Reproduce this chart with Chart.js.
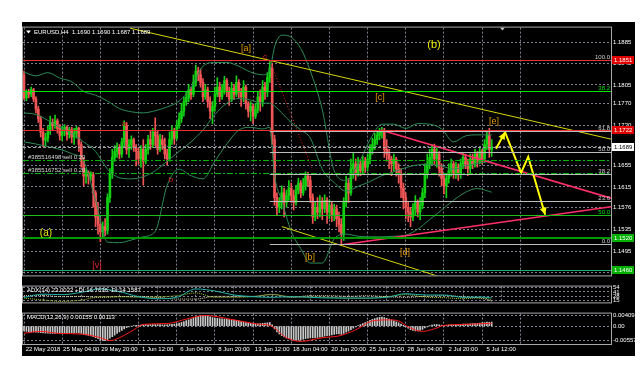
<!DOCTYPE html>
<html><head><meta charset="utf-8">
<script src="https://cdn.jsdelivr.net/npm/chart.js@4.4.1/dist/chart.umd.min.js"></script>
<style>
html,body{margin:0;padding:0;background:#fff;width:644px;height:372px;overflow:hidden}
#frame{position:absolute;left:22px;top:22px;width:613px;height:334px;background:#000}
canvas{position:absolute}
</style></head><body>
<div id="frame"></div>
<canvas id="cMain" style="left:22px;top:22px" width="613" height="259"></canvas>
<canvas id="cAdx" style="left:22px;top:281px" width="613" height="27"></canvas>
<canvas id="cMacd" style="left:22px;top:308px" width="613" height="48"></canvas>
<script>
// ---------------- DATA ----------------
const opens = [
1.1824,1.1781,1.1792,1.1788,1.1796,1.1779,1.1760,1.1742,1.1717,1.1702,
1.1706,1.1720,1.1735,1.1729,1.1738,1.1724,1.1711,1.1720,1.1726,1.1713,
1.1722,1.1708,1.1715,1.1724,1.1694,1.1663,1.1635,1.1642,1.1635,1.1638,
1.1604,1.1559,1.1545,1.1531,1.1541,1.1534,1.1595,1.1640,1.1670,1.1681,
1.1688,1.1676,1.1699,1.1729,1.1685,1.1694,1.1703,1.1688,1.1681,1.1667,
1.1685,1.1663,1.1685,1.1703,1.1694,1.1717,1.1710,1.1685,1.1703,1.1694,
1.1676,1.1667,1.1703,1.1720,1.1706,1.1729,1.1742,1.1756,1.1774,1.1781,
1.1796,1.1788,1.1810,1.1831,1.1824,1.1810,1.1783,1.1796,1.1774,1.1756,
1.1765,1.1788,1.1801,1.1783,1.1796,1.1813,1.1792,1.1779,1.1799,1.1788,
1.1810,1.1792,1.1783,1.1801,1.1771,1.1756,1.1765,1.1747,1.1760,1.1783,
1.1774,1.1801,1.1792,1.1819,1.1837,1.1703,1.1595,1.1577,1.1586,1.1604,
1.1586,1.1599,1.1613,1.1599,1.1586,1.1609,1.1622,1.1604,1.1617,1.1635,
1.1627,1.1595,1.1559,1.1577,1.1568,1.1586,1.1574,1.1590,1.1568,1.1581,
1.1563,1.1574,1.1556,1.1545,1.1527,1.1586,1.1622,1.1604,1.1649,1.1658,
1.1640,1.1658,1.1645,1.1663,1.1652,1.1667,1.1685,1.1694,1.1703,1.1711,
1.1717,1.1720,1.1685,1.1676,1.1667,1.1658,1.1667,1.1649,1.1640,1.1613,
1.1595,1.1577,1.1568,1.1559,1.1574,1.1586,1.1568,1.1581,1.1604,1.1640,
1.1658,1.1670,1.1685,1.1667,1.1676,1.1649,1.1631,1.1617,1.1631,1.1645,
1.1658,1.1640,1.1652,1.1638,1.1658,1.1670,1.1658,1.1649,1.1667,1.1658,
1.1676,1.1663,1.1681,1.1667,1.1694,1.1711,1.1685];
const closes = [
1.1781,1.1792,1.1788,1.1796,1.1779,1.1760,1.1742,1.1717,1.1702,1.1706,
1.1720,1.1735,1.1729,1.1738,1.1724,1.1711,1.1720,1.1726,1.1713,1.1722,
1.1708,1.1715,1.1724,1.1694,1.1663,1.1635,1.1642,1.1635,1.1638,1.1604,
1.1559,1.1545,1.1531,1.1541,1.1534,1.1595,1.1640,1.1670,1.1681,1.1688,
1.1676,1.1699,1.1729,1.1685,1.1694,1.1703,1.1688,1.1681,1.1667,1.1685,
1.1663,1.1685,1.1703,1.1694,1.1717,1.1710,1.1685,1.1703,1.1694,1.1676,
1.1667,1.1703,1.1720,1.1706,1.1729,1.1742,1.1756,1.1774,1.1781,1.1796,
1.1788,1.1810,1.1831,1.1824,1.1810,1.1783,1.1796,1.1774,1.1756,1.1765,
1.1788,1.1801,1.1783,1.1796,1.1813,1.1792,1.1779,1.1799,1.1788,1.1810,
1.1792,1.1783,1.1801,1.1771,1.1756,1.1765,1.1747,1.1760,1.1783,1.1774,
1.1801,1.1792,1.1819,1.1837,1.1703,1.1595,1.1577,1.1586,1.1604,1.1586,
1.1599,1.1613,1.1599,1.1586,1.1609,1.1622,1.1604,1.1617,1.1635,1.1627,
1.1595,1.1559,1.1577,1.1568,1.1586,1.1574,1.1590,1.1568,1.1581,1.1563,
1.1574,1.1556,1.1545,1.1527,1.1586,1.1622,1.1604,1.1649,1.1658,1.1640,
1.1658,1.1645,1.1663,1.1652,1.1667,1.1685,1.1694,1.1703,1.1711,1.1717,
1.1720,1.1685,1.1676,1.1667,1.1658,1.1667,1.1649,1.1640,1.1613,1.1595,
1.1577,1.1568,1.1559,1.1574,1.1586,1.1568,1.1581,1.1604,1.1640,1.1658,
1.1670,1.1685,1.1667,1.1676,1.1649,1.1631,1.1617,1.1631,1.1645,1.1658,
1.1640,1.1652,1.1638,1.1658,1.1670,1.1658,1.1649,1.1667,1.1658,1.1676,
1.1663,1.1681,1.1667,1.1694,1.1711,1.1685,1.1689];
const highs = [
1.1831,1.1796,1.1797,1.1801,1.1799,1.1783,1.1765,1.1747,1.1724,1.1715,
1.1728,1.1747,1.1742,1.1749,1.1742,1.1731,1.1728,1.1731,1.1729,1.1726,
1.1726,1.1724,1.1728,1.1726,1.1699,1.1670,1.1649,1.1645,1.1643,1.1642,
1.1608,1.1586,1.1556,1.1550,1.1556,1.1602,1.1649,1.1685,1.1692,1.1697,
1.1694,1.1706,1.1738,1.1735,1.1703,1.1710,1.1706,1.1694,1.1688,1.1692,
1.1703,1.1694,1.1711,1.1720,1.1724,1.1744,1.1720,1.1713,1.1711,1.1706,
1.1685,1.1717,1.1729,1.1724,1.1738,1.1753,1.1771,1.1783,1.1792,1.1806,
1.1801,1.1824,1.1842,1.1838,1.1835,1.1817,1.1806,1.1801,1.1783,1.1774,
1.1801,1.1819,1.1810,1.1806,1.1821,1.1817,1.1801,1.1810,1.1806,1.1822,
1.1815,1.1799,1.1813,1.1805,1.1774,1.1774,1.1769,1.1771,1.1792,1.1796,
1.1813,1.1810,1.1828,1.1851,1.1846,1.1711,1.1604,1.1595,1.1617,1.1613,
1.1609,1.1627,1.1622,1.1609,1.1618,1.1631,1.1627,1.1631,1.1643,1.1642,
1.1635,1.1602,1.1586,1.1595,1.1599,1.1595,1.1600,1.1595,1.1591,1.1586,
1.1583,1.1581,1.1568,1.1556,1.1595,1.1635,1.1631,1.1667,1.1679,1.1667,
1.1670,1.1667,1.1672,1.1670,1.1676,1.1694,1.1706,1.1715,1.1720,1.1724,
1.1726,1.1724,1.1703,1.1685,1.1672,1.1676,1.1670,1.1658,1.1649,1.1622,
1.1604,1.1586,1.1577,1.1584,1.1599,1.1591,1.1595,1.1613,1.1658,1.1676,
1.1685,1.1694,1.1695,1.1688,1.1681,1.1658,1.1640,1.1640,1.1658,1.1667,
1.1663,1.1661,1.1658,1.1667,1.1679,1.1676,1.1667,1.1676,1.1676,1.1685,
1.1681,1.1688,1.1685,1.1703,1.1720,1.1724,1.1703];
const lows = [
1.1778,1.1776,1.1781,1.1783,1.1774,1.1753,1.1735,1.1708,1.1690,1.1692,
1.1699,1.1713,1.1720,1.1724,1.1715,1.1702,1.1701,1.1710,1.1702,1.1706,
1.1697,1.1694,1.1706,1.1681,1.1652,1.1617,1.1622,1.1620,1.1627,1.1577,
1.1541,1.1527,1.1513,1.1520,1.1524,1.1527,1.1586,1.1631,1.1663,1.1670,
1.1667,1.1670,1.1692,1.1676,1.1670,1.1685,1.1681,1.1654,1.1658,1.1652,
1.1618,1.1658,1.1676,1.1685,1.1688,1.1692,1.1676,1.1681,1.1685,1.1667,
1.1656,1.1663,1.1694,1.1694,1.1703,1.1724,1.1735,1.1747,1.1767,1.1774,
1.1778,1.1783,1.1803,1.1813,1.1801,1.1774,1.1778,1.1763,1.1742,1.1733,
1.1756,1.1783,1.1774,1.1778,1.1788,1.1783,1.1767,1.1774,1.1778,1.1783,
1.1781,1.1765,1.1774,1.1760,1.1745,1.1738,1.1733,1.1742,1.1753,1.1756,
1.1765,1.1778,1.1783,1.1810,1.1694,1.1581,1.1563,1.1567,1.1574,1.1559,
1.1577,1.1590,1.1586,1.1572,1.1581,1.1602,1.1595,1.1599,1.1609,1.1617,
1.1586,1.1547,1.1552,1.1556,1.1559,1.1554,1.1567,1.1547,1.1556,1.1550,
1.1552,1.1541,1.1531,1.1508,1.1515,1.1577,1.1586,1.1599,1.1631,1.1627,
1.1635,1.1636,1.1638,1.1642,1.1645,1.1658,1.1676,1.1685,1.1694,1.1703,
1.1706,1.1670,1.1663,1.1649,1.1636,1.1645,1.1635,1.1622,1.1595,1.1574,
1.1556,1.1550,1.1541,1.1552,1.1563,1.1559,1.1554,1.1574,1.1595,1.1631,
1.1649,1.1658,1.1656,1.1652,1.1635,1.1617,1.1602,1.1595,1.1622,1.1635,
1.1631,1.1631,1.1627,1.1631,1.1649,1.1649,1.1636,1.1640,1.1649,1.1652,
1.1652,1.1658,1.1658,1.1661,1.1685,1.1670,1.1672];

// Bollinger band readings (bar index -> price)
const bandBars = [0,5,10,15,20,25,30,35,40,45,50,55,60,65,70,75,80,85,90,95,100,103,105,108,112,116,120,125,130,135,140,145,150,155,160,165,170,175,180,185,190,196];
const bbUpper = [1.1829,1.1822,1.1828,1.1818,1.1811,1.1793,1.1786,1.1775,1.1761,1.1755,1.1753,1.1757,1.1764,1.1775,1.1800,1.1840,1.1847,1.1847,1.1840,1.1829,1.1824,1.1833,1.1876,1.1898,1.1894,1.1873,1.1831,1.1759,1.1645,1.1627,1.1657,1.1703,1.1732,1.1732,1.1724,1.1733,1.1732,1.1723,1.1699,1.1710,1.1712,1.1712];
const bbMiddle = [1.1753,1.1750,1.1739,1.1726,1.1714,1.1699,1.1681,1.1648,1.1632,1.1630,1.1634,1.1645,1.1663,1.1681,1.1699,1.1721,1.1750,1.1771,1.1780,1.1777,1.1771,1.1771,1.1766,1.1753,1.1735,1.1721,1.1706,1.1648,1.1623,1.1607,1.1616,1.1625,1.1636,1.1643,1.1651,1.1656,1.1657,1.1654,1.1648,1.1654,1.1659,1.1663];
const bbLower = [1.1699,1.1695,1.1690,1.1685,1.1677,1.1663,1.1590,1.1512,1.1511,1.1516,1.1522,1.1532,1.1618,1.1648,1.1636,1.1630,1.1663,1.1695,1.1721,1.1726,1.1723,1.1726,1.1636,1.1590,1.1532,1.1500,1.1473,1.1473,1.1518,1.1527,1.1523,1.1522,1.1522,1.1523,1.1525,1.1536,1.1554,1.1572,1.1590,1.1605,1.1612,1.1605];

// Horizontal levels
const levelPrices = [1.1851, 1.1793, 1.1722, 1.1689, 1.1666, 1.1641, 1.1563, 1.1520, 1.1460];
const fibPrices = [1.1851, 1.1720, 1.1680, 1.1639, 1.1589, 1.1508];
const fibNames = ['100.0','61.8','50.0','38.2','23.6','0.0'];
const fibStartBar = 103;
const extraLevelNames = ['38.2','50.0'];
const extraLevelPrices = [1.1793, 1.1563];
const orderTexts = ['#385516498 sell 0.20', '#385516752 sell 0.20'];
const orderPrices = [1.1666, 1.1641];
const boxPrices = [1.1851, 1.1722, 1.1689, 1.1520, 1.1460];
const boxTexts = ['1.1851','1.1722','1.1689','1.1520','1.1460'];

// Trend lines [bar, price]
const yellowUpper = [[44.4,1.1911],[246.0,1.1704]];
const yellowLower = [[108.1,1.1541],[173.1,1.1449]];
const pinkUpper = [[149.6,1.1721],[246.0,1.1594]];
const pinkLower = [[133.3,1.1507],[246.0,1.1578]];
const redDotted = [[103.1,1.1849],[120.7,1.1650]];
const arrowPath = [[197.8,1.1686],[201.6,1.1717],[208.3,1.1641],[211.3,1.1671],[218.4,1.1563]];

// Wave labels
const waveTexts  = ['[a]','(b)','[c]','[e]','[b]','[d]','(a)','[v]','a','b','c'];
const waveBars   = [93.0,171.8,149.2,197.0,119.9,159.7,9.2,30.6,41.9,61.6,101.0];
const wavePrices = [1.1873,1.1880,1.1782,1.1737,1.1484,1.1493,1.1529,1.1469,1.1732,1.1628,1.1858];

// Axis ticks
const priceTicks = [1.1885,1.1845,1.1805,1.1770,1.1730,1.1690,1.1655,1.1615,1.1576,1.1535,1.1495,1.1455];
const timeLabelBars = [8,24,40,56,72,88,104,120,136,152,168,184,200];
const timeLabels = ['22 May 2018','25 May 04:00','29 May 20:00','1 Jun 12:00','6 Jun 04:00','8 Jun 20:00','13 Jun 12:00','18 Jun 04:00','20 Jun 20:00','25 Jun 12:00','28 Jun 04:00','2 Jul 20:00','5 Jul 12:00'];

// ADX
const adxBars = [0,8,16,24,32,40,48,56,64,72,80,88,96,104,112,120,128,136,144,152,160,168,176,184,192,196];
const adxValues = [24.8,34.5,33,40,50,42,27,21,25,50,44,32,27,25,27,25,23,23,23,25,36,32,32,25,26,23];
const plusDI  = [23,17,13,17,27,27,25,26,30,38,25,25,27,33,27,26,25,22,22,27,33,26,24,21,24,17];
const minusDI = [30,30,27,28,25,27,28,25,20,20,28,28,28,34,25,30,30,28,30,27,25,28,30,27,22,14];
const adxTicks = [54,41,28,15];

// MACD
const macdHist = [
-0.0018,-0.0020,-0.0021,-0.0022,-0.0022,-0.0023,-0.0024,-0.0025,
-0.0026,-0.0027,-0.0027,-0.0028,-0.0028,-0.0028,-0.0027,-0.0027,
-0.0027,-0.0026,-0.0026,-0.0026,-0.0025,-0.0025,-0.0025,-0.0026,
-0.0028,-0.0031,-0.0033,-0.0035,-0.0037,-0.0040,-0.0044,-0.0048,
-0.0052,-0.0054,-0.0055,-0.0052,-0.0046,-0.0040,-0.0034,-0.0028,
-0.0022,-0.0016,-0.0010,-0.0006,-0.0003,0.0000,0.0002,0.0003,
0.0004,0.0004,0.0004,0.0005,0.0005,0.0006,0.0006,0.0006,
0.0006,0.0006,0.0005,0.0005,0.0005,0.0006,0.0007,0.0008,
0.0010,0.0012,0.0015,0.0018,0.0021,0.0024,0.0027,0.0031,
0.0035,0.0038,0.0040,0.0041,0.0040,0.0039,0.0036,0.0033,
0.0031,0.0030,0.0029,0.0028,0.0027,0.0026,0.0025,0.0024,
0.0023,0.0022,0.0020,0.0018,0.0016,0.0014,0.0012,0.0011,
0.0010,0.0009,0.0009,0.0010,0.0011,0.0012,0.0013,0.0014,
0.0005,-0.0010,-0.0022,-0.0030,-0.0036,-0.0041,-0.0045,-0.0048,
-0.0050,-0.0052,-0.0053,-0.0053,-0.0052,-0.0050,-0.0048,-0.0046,
-0.0045,-0.0045,-0.0044,-0.0043,-0.0042,-0.0040,-0.0038,-0.0036,
-0.0035,-0.0033,-0.0031,-0.0030,-0.0030,-0.0031,-0.0028,-0.0023,
-0.0019,-0.0013,-0.0008,-0.0003,0.0002,0.0006,0.0010,0.0014,
0.0018,0.0022,0.0026,0.0029,0.0032,0.0034,0.0035,0.0033,
0.0030,0.0027,0.0024,0.0020,0.0017,0.0013,0.0008,0.0003,
-0.0003,-0.0008,-0.0013,-0.0016,-0.0018,-0.0018,-0.0016,-0.0012,
-0.0007,-0.0003,0.0001,0.0004,0.0006,0.0006,0.0005,0.0004,
0.0003,0.0003,0.0004,0.0005,0.0005,0.0006,0.0006,0.0007,
0.0008,0.0008,0.0008,0.0009,0.0010,0.0010,0.0011,0.0012,
0.0013,0.0014,0.0016,0.0015,0.0016];
const signalBars = [0,7,14,25,32,36,40,46,50,60,68,76,88,99,103,110,116,125,132,139,146,153,157,161,167,172,176,185,196];
const signalValues = [-0.0027,-0.0020,-0.0027,-0.0031,-0.0044,-0.0055,-0.0044,-0.0014,0.0007,0.0010,0.0027,0.0041,0.0024,0.0007,0.0003,-0.0044,-0.0058,-0.0044,-0.0037,-0.0014,0.0020,0.0024,0.0020,-0.0003,-0.0020,-0.0010,0.0003,0.0007,0.0011];
const macdTicks = [0.00409, 0, -0.00557];
const macdTickLabels = ['0.00409','0.00','-0.00557'];

// ---------------- STYLE ----------------
const X_MIN = -0.42, X_MAX = 246.0;
const FONT = "'Liberation Sans', Arial, sans-serif";
Chart.defaults.font.family = FONT;
Chart.defaults.font.size = 6;
Chart.defaults.color = '#ffffff';
const BULL = '#12d012', BEAR = '#f25555', BAND = '#2e8b57';
const GRID = 'rgba(150,150,170,0.85)';

const frame = {id:'frame', afterDraw(c){
  const {ctx, chartArea:a} = c; ctx.save(); ctx.setLineDash([]);
  ctx.strokeStyle = '#a8a8a8'; ctx.lineWidth = 1;
  ctx.strokeRect(a.left-0.5, a.top-0.5, a.right-a.left+1, a.bottom-a.top+1);
  ctx.restore();
}};

function xAxis(showLabels){
  return {type:'linear', min:X_MIN, max:X_MAX, offset:false,
    afterBuildTicks: s => { s.ticks = timeLabelBars.map(v=>({value:v})); },
    ticks:{display:showLabels, autoSkip:false, maxRotation:0, padding:2, color:'#fff', font:{size:6},
      callback:(v,i)=>timeLabels[i]},
    grid:{color:GRID, drawTicks:false, lineWidth:1},
    border:{display:false, dash:[2,2]},
    afterFit: s => { s.height = showLabels ? 12 : 0; }
  };
}
const pts = (bars, vals) => bars.map((b,i)=>({x:b, y:vals[i]}));
const pairPts = arr => arr.map(p=>({x:p[0], y:p[1]}));
const lineDs = (data, color, width, extra) => Object.assign({type:'line', data, borderColor:color, borderWidth:width, pointRadius:0, fill:false, tension:0}, extra||{});

// ---------------- MAIN CHART ----------------
const idx = closes.map((c,i)=>i);
const candleColor = ctx => closes[ctx.dataIndex] >= opens[ctx.dataIndex] ? BULL : BEAR;

const mainOverlay = {
  id:'mainOverlay',
  afterDatasetsDraw(chart){
    const {ctx, chartArea:a, scales:{x, y}} = chart;
    const Y = v => Math.round(y.getPixelForValue(v)) + 0.5;
    ctx.save();
    ctx.beginPath(); ctx.rect(a.left, a.top, a.right-a.left, a.bottom-a.top); ctx.clip();
    const levelStyles = [
      {c:'#e83030', w:1, d:[]},
      {c:'#00e600', w:1, d:[]},
      {c:'#e83030', w:1, d:[]},
      {c:'#a0a0a0', w:1, d:[3,2]},
      {c:'#00b400', w:1, d:[6,2,2,2]},
      {c:'#00b400', w:1, d:[6,2,2,2]},
      {c:'#18c018', w:1, d:[]},
      {c:'#009a00', w:2, d:[]},
      {c:'#1fae6a', w:1, d:[]}
    ];
    // fib lines
    const fx = x.getPixelForValue(fibStartBar);
    ctx.setLineDash([]); ctx.strokeStyle = '#bdbdbd'; ctx.lineWidth = 1;
    fibPrices.forEach(p => { const py = Y(p); ctx.beginPath(); ctx.moveTo(fx, py); ctx.lineTo(a.right, py); ctx.stroke(); });
    levelPrices.forEach((p,i) => {
      const st = levelStyles[i]; const py = st.w === 2 ? Math.round(y.getPixelForValue(p)) : Y(p);
      ctx.strokeStyle = st.c; ctx.lineWidth = st.w; ctx.setLineDash(st.d);
      ctx.beginPath(); ctx.moveTo(a.left, py); ctx.lineTo(a.right, py); ctx.stroke();
    });
    ctx.setLineDash([]);
    // arrow heads
    ctx.fillStyle = '#ffff00';
    const head = (from, to) => {
      const x1 = x.getPixelForValue(from[0]), y1 = y.getPixelForValue(from[1]);
      const x2 = x.getPixelForValue(to[0]), y2 = y.getPixelForValue(to[1]);
      const ang = Math.atan2(y2-y1, x2-x1), L = 7, W = 3.5;
      ctx.beginPath(); ctx.moveTo(x2, y2);
      ctx.lineTo(x2 - L*Math.cos(ang) + W*Math.sin(ang), y2 - L*Math.sin(ang) - W*Math.cos(ang));
      ctx.lineTo(x2 - L*Math.cos(ang) - W*Math.sin(ang), y2 - L*Math.sin(ang) + W*Math.cos(ang));
      ctx.closePath(); ctx.fill();
    };
    head(arrowPath[0], arrowPath[1]);
    head(arrowPath[3], arrowPath[4]);
    // texts
    ctx.font = '6px ' + FONT; ctx.textBaseline = 'bottom';
    ctx.fillStyle = '#d8d8d8'; ctx.textAlign = 'left';
    orderTexts.forEach((t,i) => ctx.fillText(t, a.left + 5, Y(orderPrices[i]) - 0.5));
    ctx.textAlign = 'right';
    fibNames.forEach((t,i) => { ctx.fillStyle = '#cfcfcf'; ctx.fillText(t, a.right - 1, Y(fibPrices[i]) - 0.5); });
    extraLevelNames.forEach((t,i) => { ctx.fillStyle = '#00e000'; ctx.fillText(t, a.right - 1, Y(extraLevelPrices[i]) - 0.5); });
    // wave labels
    const waveStyle = {'[a]':['#e39a00',9], '(b)':['#e6e600',11], '[c]':['#e39a00',9], '[e]':['#e39a00',9], '[b]':['#e39a00',9], '[d]':['#e39a00',9], '(a)':['#e6e600',10], '[v]':['#e02424',9], 'a':['#e02424',8], 'b':['#e02424',8], 'c':['#e02424',8]};
    ctx.textAlign = 'center'; ctx.textBaseline = 'middle';
    waveTexts.forEach((t,i) => {
      const st = waveStyle[t]; ctx.fillStyle = st[0]; ctx.font = st[1] + 'px ' + FONT;
      ctx.fillText(t, x.getPixelForValue(waveBars[i]), y.getPixelForValue(wavePrices[i]));
    });
    // header
    ctx.textAlign = 'left'; ctx.font = '6px ' + FONT; ctx.fillStyle = '#ffffff';
    ctx.beginPath(); ctx.moveTo(a.left+3, a.top+3); ctx.lineTo(a.left+8, a.top+3); ctx.lineTo(a.left+5.5, a.top+6); ctx.closePath(); ctx.fill();
    ctx.fillText('EURUSD,H4  1.1690 1.1690 1.1687 1.1689', a.left + 11, a.top + 5);
    // shift marker
    const sx = x.getPixelForValue(200.5);
    ctx.fillStyle = '#c8c8c8';
    ctx.beginPath(); ctx.moveTo(sx-2.5, a.top); ctx.lineTo(sx+2.5, a.top); ctx.lineTo(sx, a.top+3); ctx.closePath(); ctx.fill();
    ctx.restore();
  },
  afterDraw(chart){
    const {ctx, chartArea:a, scales:{y}} = chart;
    const boxStyles = [['#e00000','#ffffff'],['#e00000','#ffffff'],['#ffffff','#000000'],['#00b000','#ffffff'],['#00b000','#ffffff']];
    ctx.save(); ctx.font = '6px ' + FONT; ctx.textBaseline = 'middle'; ctx.textAlign = 'left';
    boxPrices.forEach((p,i) => {
      const py = Math.round(y.getPixelForValue(p));
      ctx.fillStyle = boxStyles[i][0]; ctx.fillRect(a.right + 1, py - 4, 22, 8);
      ctx.fillStyle = boxStyles[i][1]; ctx.fillText(boxTexts[i], a.right + 3, py + 0.5);
    });
    ctx.restore();
  }
};

new Chart(document.getElementById('cMain'), {
  type:'bar',
  data:{datasets:[
    lineDs(pts(bandBars, bbUpper), BAND, 1, {cubicInterpolationMode:'monotone', order:3}),
    lineDs(pts(bandBars, bbMiddle), BAND, 1, {cubicInterpolationMode:'monotone', order:3}),
    lineDs(pts(bandBars, bbLower), BAND, 1, {cubicInterpolationMode:'monotone', order:3}),
    lineDs(pairPts(yellowUpper), '#d6d600', 1, {order:2}),
    lineDs(pairPts(yellowLower), '#d6d600', 1, {order:2}),
    lineDs(pairPts(pinkUpper), '#ff2f6a', 1.6, {order:2}),
    lineDs(pairPts(pinkLower), '#ff2f6a', 1.6, {order:2}),
    lineDs(pairPts(redDotted), '#e02020', 1, {borderDash:[1,2], order:2}),
    lineDs(pairPts(arrowPath), '#ffff00', 2, {order:1}),
    {type:'bar', data: idx.map(i=>({x:i, y:[opens[i], closes[i]]})), backgroundColor:candleColor, barThickness:2, grouped:false, minBarLength:1, order:5},
    {type:'bar', data: idx.map(i=>({x:i, y:[lows[i], highs[i]]})), backgroundColor:candleColor, barThickness:1, grouped:false, order:6}
  ]},
  options:{
    responsive:false, animation:false, devicePixelRatio:1, events:[],
    layout:{padding:{left:1, top:1, right:0, bottom:2}},
    plugins:{legend:{display:false}, tooltip:{enabled:false}},
    scales:{
      x: xAxis(false),
      y: {position:'right', min:1.1450, max:1.1912,
        afterBuildTicks: s => { s.ticks = priceTicks.map(v=>({value:v})); },
        ticks:{autoSkip:false, padding:2, color:'#fff', font:{size:6}, callback:v=>v.toFixed(4)},
        grid:{color:GRID, drawTicks:false}, border:{display:false, dash:[2,2]},
        afterFit: s => { s.width = 24; }
      }
    }
  },
  plugins:[mainOverlay, frame]
});

// ---------------- ADX ----------------
const headerPlugin = (id, text) => ({id, afterDatasetsDraw(c){
  const {ctx, chartArea:a} = c; ctx.save(); ctx.font = '6px ' + FONT; ctx.fillStyle = '#ffffff';
  ctx.textBaseline = 'middle'; ctx.textAlign = 'left'; ctx.fillText(text, a.left + 4, a.top + 4); ctx.restore();
}});

new Chart(document.getElementById('cAdx'), {
  type:'line',
  data:{datasets:[
    lineDs(pts(adxBars, adxValues), '#20b2aa', 1, {cubicInterpolationMode:'monotone'}),
    lineDs(pts(adxBars, plusDI), '#9acd32', 1, {borderDash:[1,1], cubicInterpolationMode:'monotone'}),
    lineDs(pts(adxBars, minusDI), '#e8d8b0', 1, {borderDash:[1,1], cubicInterpolationMode:'monotone'})
  ]},
  options:{
    responsive:false, animation:false, devicePixelRatio:1, events:[],
    layout:{padding:{left:1, top:1, right:0, bottom:2}},
    plugins:{legend:{display:false}, tooltip:{enabled:false}},
    scales:{
      x: xAxis(false),
      y: {position:'right', min:10, max:57,
        afterBuildTicks: s => { s.ticks = adxTicks.map(v=>({value:v})); },
        ticks:{autoSkip:false, padding:2, color:'#fff', font:{size:6}},
        grid:{color:GRID, drawTicks:false}, border:{display:false, dash:[2,2]},
        afterFit: s => { s.width = 24; }
      }
    }
  },
  plugins:[headerPlugin('adxHead','ADX(14) 23.0022 +DI:16.7636 -DI:14.1587'), frame]
});

// ---------------- MACD ----------------
new Chart(document.getElementById('cMacd'), {
  type:'bar',
  data:{datasets:[
    lineDs(pts(signalBars, signalValues), '#ff1a1a', 1, {cubicInterpolationMode:'monotone', order:1}),
    {type:'bar', data: idx.map(i=>({x:i, y:macdHist[i]})), backgroundColor:'#c9c9c9', barThickness:1, grouped:false, order:2}
  ]},
  options:{
    responsive:false, animation:false, devicePixelRatio:1, events:[],
    layout:{padding:{left:1, top:2, right:0, bottom:0}},
    plugins:{legend:{display:false}, tooltip:{enabled:false}},
    scales:{
      x: xAxis(true),
      y: {position:'right', min:-0.0068, max:0.0048,
        afterBuildTicks: s => { s.ticks = macdTicks.map(v=>({value:v})); },
        ticks:{autoSkip:false, padding:2, color:'#fff', font:{size:6}, callback:(v,i)=>macdTickLabels[i]},
        grid:{color:GRID, drawTicks:false}, border:{display:false, dash:[2,2]},
        afterFit: s => { s.width = 24; }
      }
    }
  },
  plugins:[headerPlugin('macdHead','MACD(12,26,9) 0.00155 0.00113'), frame]
});
</script>
</body></html>
